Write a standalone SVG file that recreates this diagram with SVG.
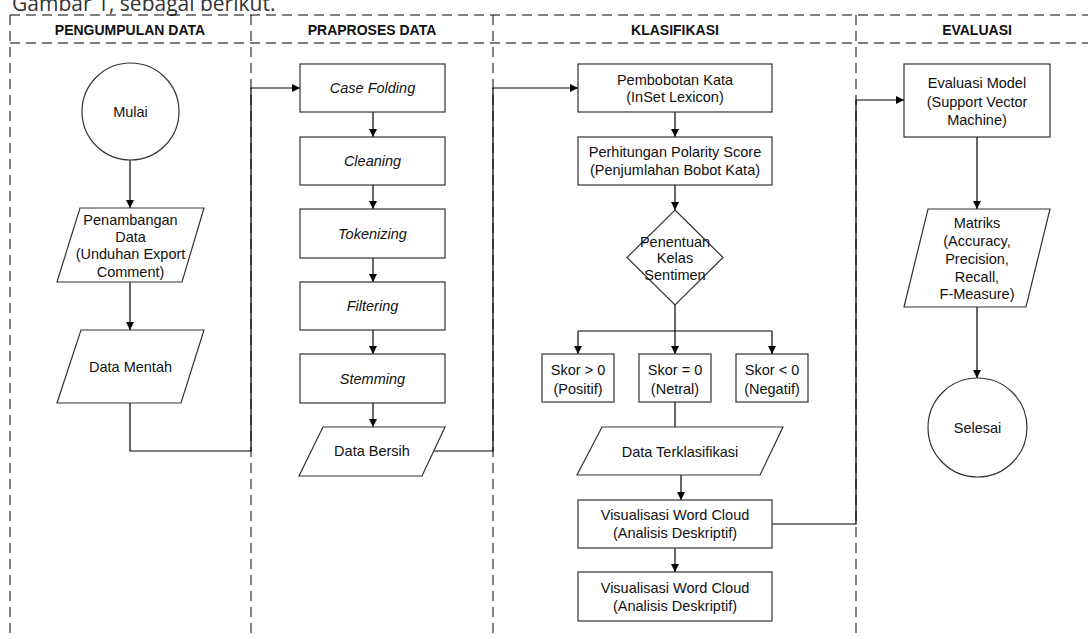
<svg xmlns="http://www.w3.org/2000/svg" width="1088" height="639" viewBox="0 0 1088 639">
<style>
  .lane{stroke:#000;stroke-width:1;stroke-dasharray:10 6;fill:none}
  .hdr{font-family:"Liberation Sans",Arial,sans-serif;font-size:14px;font-weight:bold;fill:#111;text-anchor:middle}
  .t{font-family:"Liberation Sans",Arial,sans-serif;font-size:14.5px;fill:#111;text-anchor:middle}
  .it{font-style:italic}
  .shape{fill:#fff;stroke:#333;stroke-width:1.2}
  .conn{fill:none;stroke:#000;stroke-width:1.2}
  .arr{marker-end:url(#ah)}
</style>
<defs>
  <marker id="ah" viewBox="0 0 10 10" refX="10" refY="5" markerWidth="8" markerHeight="8" markerUnits="userSpaceOnUse" orient="auto">
    <path d="M0,0 L10,5 L0,10 Z" fill="#000"/>
  </marker>
</defs>
<rect width="1088" height="639" fill="#fff"/>
<text x="12" y="11" font-family="'Open Sans',sans-serif" font-size="21" fill="#333">Gambar 1, sebagai berikut.</text>

<g id="lanes">
  <line class="lane" x1="10" y1="15" x2="1088" y2="15"/>
  <line class="lane" x1="10" y1="43" x2="1088" y2="43"/>
  <line class="lane" x1="10" y1="15" x2="10" y2="639"/>
  <line class="lane" x1="251" y1="15" x2="251" y2="639"/>
  <line class="lane" x1="493" y1="15" x2="493" y2="639"/>
  <line class="lane" x1="856" y1="15" x2="856" y2="639"/>
  <text class="hdr" x="130" y="35">PENGUMPULAN DATA</text>
  <text class="hdr" x="372" y="35">PRAPROSES DATA</text>
  <text class="hdr" x="675" y="35">KLASIFIKASI</text>
  <text class="hdr" x="977" y="35">EVALUASI</text>
</g>

<g id="connectors">
  <line class="conn arr" x1="130" y1="160" x2="130" y2="208"/>
  <line class="conn arr" x1="130" y1="282" x2="130" y2="330"/>
  <polyline class="conn arr" points="130,403 130,451 251,451 251,88 300,88"/>
  <line class="conn arr" x1="373" y1="112" x2="373" y2="137"/>
  <line class="conn arr" x1="373" y1="185" x2="373" y2="209"/>
  <line class="conn arr" x1="373" y1="258" x2="373" y2="282"/>
  <line class="conn arr" x1="373" y1="330" x2="373" y2="354"/>
  <line class="conn arr" x1="373" y1="403" x2="373" y2="427"/>
  <polyline class="conn arr" points="434,451 493,451 493,88 578,88"/>
  <line class="conn arr" x1="675" y1="112" x2="675" y2="137"/>
  <line class="conn arr" x1="675" y1="185" x2="675" y2="210"/>
  <line class="conn" x1="675" y1="305" x2="675" y2="331"/>
  <polyline class="conn arr" points="578,331 578,354"/>
  <polyline class="conn" points="578,331 772,331"/>
  <line class="conn arr" x1="675" y1="331" x2="675" y2="354"/>
  <line class="conn arr" x1="772" y1="331" x2="772" y2="354"/>
  <line class="conn" x1="675" y1="402" x2="675" y2="427"/>
  <line class="conn arr" x1="681" y1="475" x2="681" y2="500"/>
  <line class="conn arr" x1="675" y1="548" x2="675" y2="572"/>
  <polyline class="conn arr" points="772,524 856,524 856,100 904,100"/>
  <line class="conn arr" x1="977" y1="137" x2="977" y2="209"/>
  <line class="conn arr" x1="977" y1="307" x2="977" y2="378"/>
</g>

<g id="mulai">
  <circle class="shape" cx="130.5" cy="111.5" r="48.5"/>
  <text class="t" x="130.5" y="117">Mulai</text>
</g>
<g id="penambangan">
  <polygon class="shape" points="80,208 204,208 182,282 57,282"/>
  <text class="t" x="130.5" y="225">Penambangan</text>
  <text class="t" x="130.5" y="242">Data</text>
  <text class="t" x="130.5" y="259">(Unduhan Export</text>
  <text class="t" x="130.5" y="277">Comment)</text>
</g>
<g id="data-mentah">
  <polygon class="shape" points="81,330 204,330 181,403 57,403"/>
  <text class="t" x="130.5" y="372">Data Mentah</text>
</g>

<g id="case-folding">
  <rect class="shape" x="300" y="64" width="145" height="48"/>
  <text class="t it" x="372.5" y="93">Case Folding</text>
</g>
<g id="cleaning">
  <rect class="shape" x="300" y="137" width="145" height="48"/>
  <text class="t it" x="372.5" y="166">Cleaning</text>
</g>
<g id="tokenizing">
  <rect class="shape" x="300" y="209" width="145" height="49"/>
  <text class="t it" x="372.5" y="239">Tokenizing</text>
</g>
<g id="filtering">
  <rect class="shape" x="300" y="282" width="145" height="48"/>
  <text class="t it" x="372.5" y="311">Filtering</text>
</g>
<g id="stemming">
  <rect class="shape" x="300" y="354" width="145" height="49"/>
  <text class="t it" x="372.5" y="384">Stemming</text>
</g>
<g id="data-bersih">
  <polygon class="shape" points="323,427 445,427 422,476 299,476"/>
  <text class="t" x="372" y="456">Data Bersih</text>
</g>

<g id="pembobotan">
  <rect class="shape" x="578" y="64" width="194" height="48"/>
  <text class="t" x="675" y="85">Pembobotan Kata</text>
  <text class="t" x="675" y="102">(InSet Lexicon)</text>
</g>
<g id="polarity">
  <rect class="shape" x="578" y="137" width="194" height="48"/>
  <text class="t" x="675" y="157">Perhitungan Polarity Score</text>
  <text class="t" x="675" y="175">(Penjumlahan Bobot Kata)</text>
</g>
<g id="penentuan">
  <polygon class="shape" points="675,210 723,257.5 675,305 627,257.5"/>
  <text class="t" x="675" y="247">Penentuan</text>
  <text class="t" x="675" y="263">Kelas</text>
  <text class="t" x="675" y="280">Sentimen</text>
</g>
<g id="positif">
  <rect class="shape" x="542" y="354" width="72" height="48"/>
  <text class="t" x="578" y="375">Skor &gt; 0</text>
  <text class="t" x="578" y="394">(Positif)</text>
</g>
<g id="netral">
  <rect class="shape" x="639" y="354" width="72" height="48"/>
  <text class="t" x="675" y="375">Skor = 0</text>
  <text class="t" x="675" y="394">(Netral)</text>
</g>
<g id="negatif">
  <rect class="shape" x="736" y="354" width="72" height="48"/>
  <text class="t" x="772" y="375">Skor &lt; 0</text>
  <text class="t" x="772" y="394">(Negatif)</text>
</g>
<g id="data-terklasifikasi">
  <polygon class="shape" points="602,427 783,427 760,475 577,475"/>
  <text class="t" x="680" y="457">Data Terklasifikasi</text>
</g>
<g id="wordcloud-1">
  <rect class="shape" x="578" y="500" width="194" height="48"/>
  <text class="t" x="675" y="520">Visualisasi Word Cloud</text>
  <text class="t" x="675" y="538">(Analisis Deskriptif)</text>
</g>
<g id="wordcloud-2">
  <rect class="shape" x="578" y="572" width="194" height="49"/>
  <text class="t" x="675" y="593">Visualisasi Word Cloud</text>
  <text class="t" x="675" y="611">(Analisis Deskriptif)</text>
</g>

<g id="evaluasi-model">
  <rect class="shape" x="904" y="64" width="146" height="73"/>
  <text class="t" x="977" y="88">Evaluasi Model</text>
  <text class="t" x="977" y="107">(Support Vector</text>
  <text class="t" x="977" y="125">Machine)</text>
</g>
<g id="matriks">
  <polygon class="shape" points="928,209 1050,209 1026,307 904,307"/>
  <text class="t" x="977" y="228">Matriks</text>
  <text class="t" x="977" y="246">(Accuracy,</text>
  <text class="t" x="977" y="264">Precision,</text>
  <text class="t" x="977" y="282">Recall,</text>
  <text class="t" x="977" y="299">F-Measure)</text>
</g>
<g id="selesai">
  <circle class="shape" cx="977.5" cy="427.5" r="49.5"/>
  <text class="t" x="977.5" y="433">Selesai</text>
</g>
</svg>
